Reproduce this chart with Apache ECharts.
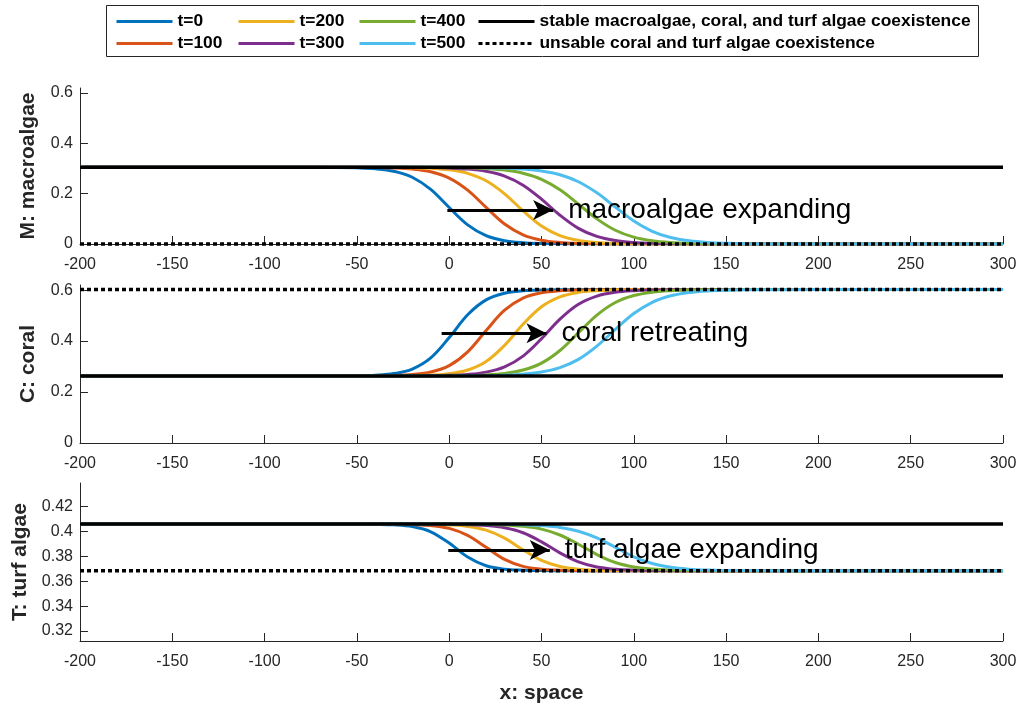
<!DOCTYPE html>
<html>
<head>
<meta charset="utf-8">
<script src="https://cdn.jsdelivr.net/npm/echarts@6/dist/echarts.min.js"></script>
<style>html,body{margin:0;padding:0;background:#fff;}#c{width:1021px;height:711px;}</style>
</head>
<body>
<div id="c"></div>
<script>
// ---- data ----
const xs = [-200,-100,-60,-50,-40,-30,-20,-10,0,10,20,30,40,50,60,70,80,90,100,110,120,130,140,150,160,200,300];
const seriesNames = ['t=0','t=100','t=200','t=300','t=400','t=500'];
const stableName = 'stable macroalgae, coral, and turf algae coexistence';
const unstableName = 'unsable coral and turf algae coexistence';

// M: macroalgae
const m0 = [0.305,0.305,0.3042,0.3027,0.2990,0.2891,0.2653,0.2168,0.1449,0.0762,0.0333,0.0131,0.0050,0.0019,0.0007,0.0003,0.0001,0,0,0,0,0,0,0,0,0,0];
const m1 = [0.305,0.305,0.3048,0.3046,0.3039,0.3022,0.2977,0.2869,0.2621,0.2141,0.1453,0.0792,0.0364,0.0151,0.0060,0.0024,0.0009,0.0003,0.0001,0,0,0,0,0,0,0,0];
const m2 = [0.305,0.305,0.3050,0.3049,0.3047,0.3043,0.3033,0.3008,0.2948,0.2809,0.2514,0.1994,0.1318,0.0716,0.0336,0.0145,0.0060,0.0024,0.0010,0.0004,0.0002,0.0001,0,0,0,0,0];
const m3 = [0.305,0.305,0.3050,0.3050,0.3049,0.3048,0.3044,0.3037,0.3019,0.2980,0.2890,0.2700,0.2339,0.1782,0.1144,0.0622,0.0301,0.0136,0.0060,0.0026,0.0011,0.0005,0.0002,0.0001,0,0,0];
const m4 = [0.305,0.305,0.3050,0.3050,0.3050,0.3049,0.3048,0.3045,0.3040,0.3027,0.2999,0.2940,0.2814,0.2571,0.2156,0.1586,0.0999,0.0547,0.0273,0.0129,0.0059,0.0027,0.0012,0.0005,0.0002,0,0];
const m5 = [0.305,0.305,0.3050,0.3050,0.3050,0.3050,0.3050,0.3049,0.3047,0.3043,0.3035,0.3018,0.2981,0.2905,0.2754,0.2475,0.2033,0.1466,0.0916,0.0506,0.0257,0.0125,0.0059,0.0028,0.0013,0,0];

// C: coral
const c0 = [0.263,0.263,0.2633,0.2640,0.2661,0.2724,0.2901,0.3337,0.4137,0.5033,0.5616,0.5875,0.5971,0.6004,0.6015,0.6018,0.6019,0.6020,0.602,0.602,0.602,0.602,0.602,0.602,0.602,0.602,0.602];
const c1 = [0.263,0.263,0.2631,0.2632,0.2637,0.2649,0.2685,0.2783,0.3034,0.3578,0.4414,0.5210,0.5685,0.5895,0.5975,0.6004,0.6015,0.6018,0.6019,0.602,0.602,0.602,0.602,0.602,0.602,0.602,0.602];
const c2 = [0.263,0.263,0.2630,0.2631,0.2632,0.2635,0.2642,0.2664,0.2720,0.2864,0.3200,0.3831,0.4660,0.5349,0.5738,0.5911,0.5979,0.6005,0.6014,0.6018,0.6019,0.6020,0.602,0.602,0.602,0.602,0.602];
const c3 = [0.263,0.263,0.2630,0.2630,0.2631,0.2631,0.2634,0.2640,0.2654,0.2691,0.2781,0.2987,0.3409,0.4090,0.4858,0.5442,0.5766,0.5915,0.5978,0.6003,0.6013,0.6017,0.6019,0.6020,0.602,0.602,0.602];
const c4 = [0.263,0.263,0.2630,0.2630,0.2630,0.2631,0.2631,0.2633,0.2638,0.2648,0.2673,0.2731,0.2863,0.3136,0.3631,0.4325,0.5019,0.5514,0.5787,0.5919,0.5977,0.6002,0.6012,0.6017,0.6019,0.602,0.602];
const c5 = [0.263,0.263,0.2630,0.2630,0.2630,0.2630,0.2631,0.2631,0.2633,0.2637,0.2645,0.2662,0.2702,0.2785,0.2956,0.3280,0.3801,0.4460,0.5081,0.5522,0.5777,0.5906,0.5968,0.5996,0.6009,0.6020,0.6020];

// T: turf algae
const t0 = [0.406,0.406,0.4060,0.4060,0.4058,0.4054,0.4040,0.3998,0.3907,0.3795,0.3725,0.3697,0.3689,0.3686,0.3685,0.3685,0.3685,0.3685,0.3685,0.3685,0.3685,0.3685,0.3685,0.3685,0.3685,0.3685,0.3685];
const t1 = [0.406,0.406,0.4060,0.4060,0.4060,0.4059,0.4056,0.4048,0.4025,0.3969,0.3873,0.3776,0.3720,0.3697,0.3689,0.3686,0.3685,0.3685,0.3685,0.3685,0.3685,0.3685,0.3685,0.3685,0.3685,0.3685,0.3685];
const t2 = [0.406,0.406,0.4060,0.4060,0.4060,0.4060,0.4059,0.4058,0.4053,0.4041,0.4011,0.3947,0.3853,0.3768,0.3719,0.3697,0.3689,0.3687,0.3686,0.3685,0.3685,0.3685,0.3685,0.3685,0.3685,0.3685,0.3685];
const t3 = [0.406,0.406,0.4060,0.4060,0.4060,0.4060,0.4060,0.4059,0.4058,0.4055,0.4048,0.4030,0.3990,0.3917,0.3828,0.3756,0.3715,0.3697,0.3690,0.3687,0.3686,0.3685,0.3685,0.3685,0.3685,0.3685,0.3685];
const t4 = [0.406,0.406,0.4060,0.4060,0.4060,0.4060,0.4060,0.4060,0.4060,0.4059,0.4057,0.4053,0.4042,0.4019,0.3972,0.3898,0.3815,0.3751,0.3715,0.3698,0.3690,0.3687,0.3686,0.3685,0.3685,0.3685,0.3685];
const t5 = [0.406,0.406,0.4060,0.4060,0.4060,0.4060,0.4060,0.4060,0.4060,0.4060,0.4059,0.4058,0.4055,0.4048,0.4033,0.4002,0.3948,0.3873,0.3797,0.3743,0.3712,0.3697,0.3690,0.3687,0.3686,0.3685,0.3685];

// equilibrium levels
const stableLevels = [0.305, 0.263, 0.406];
const unstableLevels = [0, 0.602, 0.3685];

// axis ticks
const xTicks = [-200,-150,-100,-50,0,50,100,150,200,250,300];
const yTicksM = [0, 0.2, 0.4, 0.6];
const yTicksC = [0, 0.2, 0.4, 0.6];
const yTicksT = [0.32, 0.34, 0.36, 0.38, 0.40, 0.42];
const yRanges = [[0, 0.62], [0, 0.62], [0.312, 0.439]];
const yNames = ['M: macroalgae', 'C: coral', 'T: turf algae'];

// annotations (arrow start x, arrow tip x, y, text)
const annotations = [
  {x0: -1,   x1: 56.3, y: 0.135,  text: 'macroalgae expanding'},
  {x0: -4.1, x1: 52.7, y: 0.431,  text: 'coral retreating'},
  {x0: -0.5, x1: 54.5, y: 0.3852, text: 'turf algae expanding'}
];

// ---- chart ----
const colors = ['#0072BD','#D95319','#EDB120','#7E2F8E','#77AC30','#4DBEEE'];
const FONT = 'Helvetica, "Liberation Sans", Arial, sans-serif';
const TXT = '#262626';
const panels = [[m0,m1,m2,m3,m4,m5],[c0,c1,c2,c3,c4,c5],[t0,t1,t2,t3,t4,t5]];
const yTickSets = [yTicksM, yTicksC, yTicksT];
const grids = [
  {left: 80, right: 18, top: 88, height: 156},
  {left: 80, right: 18, top: 285, height: 158},
  {left: 80, right: 18, top: 483, height: 158}
];

const xAxes = grids.map((g, i) => ({
  type: 'value', gridIndex: i, min: -200, max: 300, interval: 50,
  axisLine: {show: true, onZero: false, lineStyle: {color: TXT, width: 1}},
  axisTick: {show: true, inside: true, length: 8, lineStyle: {color: TXT}, customValues: xTicks},
  axisLabel: {show: true, color: TXT, fontSize: 16, fontFamily: FONT, margin: 13, customValues: xTicks},
  splitLine: {show: false},
  name: i === 2 ? 'x: space' : '',
  nameLocation: 'middle', nameGap: 42,
  nameTextStyle: {color: TXT, fontSize: 21, fontWeight: 'bold', fontFamily: FONT}
}));

const yAxes = grids.map((g, i) => ({
  type: 'value', gridIndex: i, min: yRanges[i][0], max: yRanges[i][1],
  axisLine: {show: true, onZero: false, lineStyle: {color: TXT, width: 1}},
  axisTick: {show: true, inside: true, length: 8, lineStyle: {color: TXT}, customValues: yTickSets[i]},
  axisLabel: {show: true, color: TXT, fontSize: 16, fontFamily: FONT, margin: 7, customValues: yTickSets[i]},
  splitLine: {show: false},
  name: yNames[i], nameLocation: 'middle', nameGap: 41,
  nameTextStyle: {color: TXT, fontSize: 21, fontWeight: 'bold', fontFamily: FONT}
}));

const series = [];
panels.forEach((arrs, p) => {
  arrs.forEach((arr, k) => {
    series.push({
      name: seriesNames[k], type: 'line', xAxisIndex: p, yAxisIndex: p,
      data: xs.map((x, j) => [x, arr[j]]),
      smooth: 0.35, symbol: 'none', color: colors[k],
      lineStyle: {color: colors[k], width: 3}, z: 2
    });
  });
  const a = annotations[p];
  series.push({
    name: stableName, type: 'line', xAxisIndex: p, yAxisIndex: p,
    data: [[-200, stableLevels[p]], [300, stableLevels[p]]],
    symbol: 'none', color: '#000', lineStyle: {color: '#000', width: 3.5}, z: 3,
    markLine: {
      silent: true, animation: false,
      lineStyle: {color: '#000', width: 3, type: 'solid'},
      label: {show: true, position: 'end', distance: 15, formatter: a.text,
              color: '#000', fontSize: 28, fontFamily: FONT},
      data: [[
        {coord: [a.x0, a.y], symbol: 'none'},
        {coord: [a.x1, a.y], symbol: 'arrow', symbolSize: [15, 20]}
      ]]
    }
  });
  series.push({
    name: unstableName, type: 'line', xAxisIndex: p, yAxisIndex: p,
    data: [[-200, unstableLevels[p]], [300, unstableLevels[p]]],
    symbol: 'none', color: '#000', clip: false,
    lineStyle: {color: '#000', width: 3.5, type: [4, 3], cap: 'butt'}, z: 3
  });
});

const legendBase = {
  orient: 'vertical', top: 13, padding: 0, itemWidth: 56, itemHeight: 14, itemGap: 5,
  selectedMode: false, z: 10,
  lineStyle: {width: 3},
  itemStyle: {opacity: 0},
  textStyle: {color: '#000', fontSize: 17.4, fontWeight: 'bold', fontFamily: FONT}
};
const legends = [
  Object.assign({}, legendBase, {left: 115, data: ['t=0', 't=100']}),
  Object.assign({}, legendBase, {left: 237, data: ['t=200', 't=300']}),
  Object.assign({}, legendBase, {left: 358, data: ['t=400', 't=500']}),
  Object.assign({}, legendBase, {left: 477, data: [stableName, unstableName]})
];

const chart = echarts.init(document.getElementById('c'), null, {renderer: 'canvas'});
chart.setOption({
  animation: false,
  backgroundColor: '#fff',
  grid: grids,
  xAxis: xAxes,
  yAxis: yAxes,
  legend: legends,
  graphic: [{
    type: 'rect', left: 106, top: 5, z: 0,
    shape: {width: 872, height: 51},
    style: {fill: '#fff', stroke: '#262626', lineWidth: 1}
  }],
  series: series
});
</script>
</body>
</html>
